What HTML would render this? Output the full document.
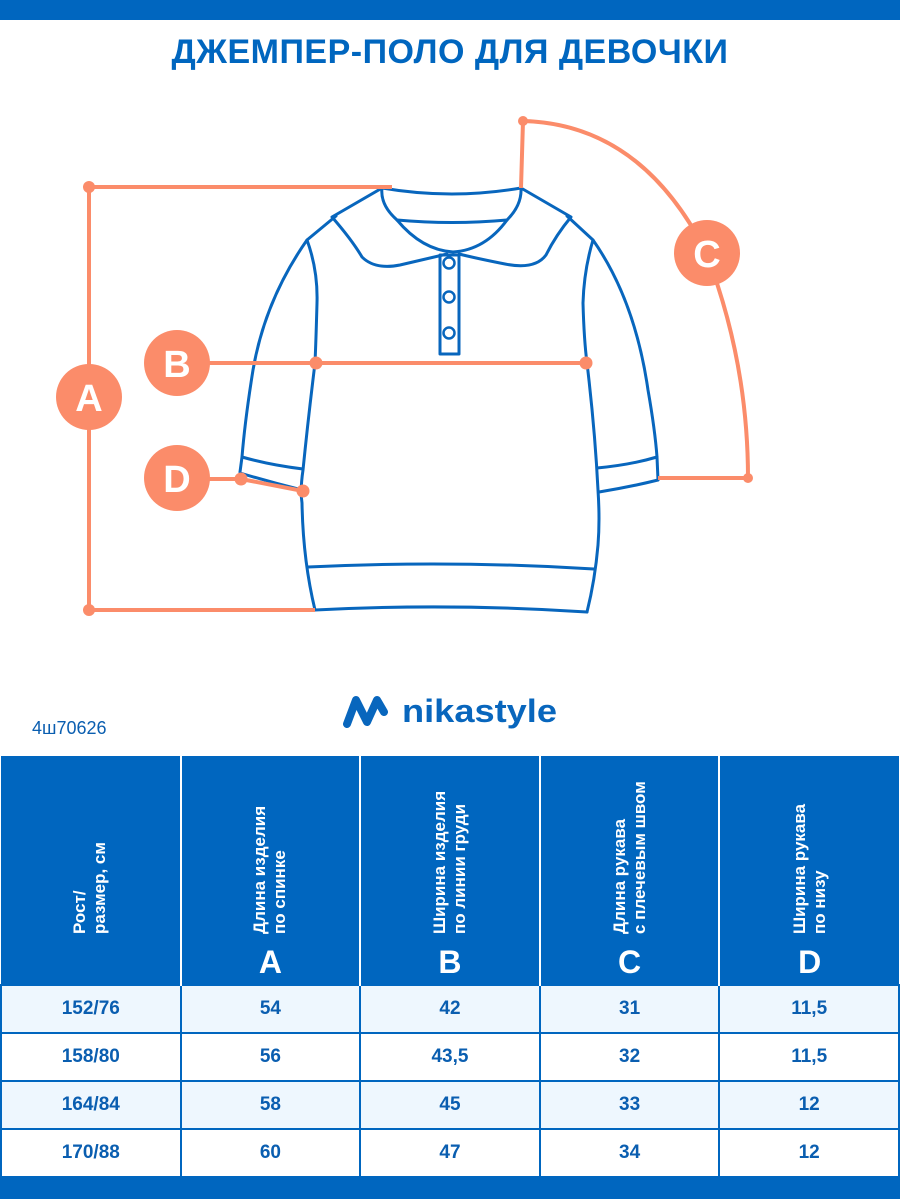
<!DOCTYPE html>
<html><head><meta charset="utf-8"><style>
html,body{margin:0;padding:0;background:#fff;}
body{width:900px;height:1199px;position:relative;overflow:hidden;font-family:"Liberation Sans",sans-serif;}
.bar{position:absolute;left:0;width:900px;background:#0066bf;}
.title{position:absolute;top:33px;left:0;width:900px;text-align:center;color:#0066bf;font-weight:bold;font-size:34px;letter-spacing:0.5px;}
.art{position:absolute;top:718px;left:32px;color:#0a5eb0;font-size:18px;}
table{position:absolute;left:0;top:756px;width:900px;border-collapse:collapse;table-layout:fixed;}
th{background:#0066bf;color:#fff;height:228px;border-left:2px solid #fff;position:relative;padding:0;}
th:first-child{border-left:none;}
th .v{position:absolute;left:50%;top:178px;transform-origin:0 0;transform:rotate(-90deg) translate(0,-50%);white-space:nowrap;font-size:17px;line-height:20px;text-align:left;font-weight:bold;}
th .l{position:absolute;left:0;width:100%;top:188px;font-size:32px;font-weight:bold;}
td{height:46px;border:2px solid #0066bf;text-align:center;color:#0a5eb0;font-weight:bold;font-size:19px;padding:0;}
tr.a td{background:#eef7fe;}
</style></head><body>
<div class="bar" style="top:0;height:20px"></div>
<div class="title">ДЖЕМПЕР-ПОЛО ДЛЯ ДЕВОЧКИ</div>
<svg width="900" height="750" style="position:absolute;left:0;top:0">
<g fill="none" stroke="#0866bd" stroke-width="3" stroke-linejoin="round" stroke-linecap="round">
<path d="M382,188 Q452,200 521,188"/>
<path d="M382,188 L332,217 Q352,240 362,257 Q375,270 400,265 Q430,258 447,254"/>
<path d="M521,188 L571,217 Q556,235 546,255 Q535,270 505,264 Q475,258 459,254"/>
<path d="M382,188 Q380,205 397,220 Q422,250 453,252 Q485,250 507,220 Q522,205 521,188"/>
<path d="M397,220 Q452,225 507,220"/>
<path d="M336,216 L307,240 Q265,300 253,370 Q245,420 242,457 L240,472"/>
<path d="M567,216 L593,240 Q635,300 648,390 Q655,430 657,457 L658,480"/>
<path d="M307,240 Q318,270 317,303 Q316,340 315,363 Q308,420 303,470 Q300,490 302,503 Q303,560 315,610"/>
<path d="M593,240 Q584,270 583,303 Q584,340 587,363 Q595,430 598,490 Q600,520 598,545 Q595,580 587,612"/>
<path d="M315,610 Q450,603 587,612"/>
<path d="M308,567 Q450,560 594,569"/>
<path d="M242,457 Q270,465 303,469"/>
<path d="M240,473 Q270,482 302,490"/>
<path d="M657,457 Q630,465 597,468"/>
<path d="M658,480 Q630,487 599,492"/>
<rect x="440" y="255" width="19" height="99"/>
<circle cx="449" cy="263" r="5.5" stroke-width="2.5"/>
<circle cx="449" cy="297" r="5.5" stroke-width="2.5"/>
<circle cx="449" cy="333" r="5.5" stroke-width="2.5"/>
</g>
<g stroke="#fb8c6a" stroke-width="4" fill="none">
<path d="M89,187 V610 M89,187 H392 M89,610 H315"/>
<path d="M177,363 H586"/>
<path d="M177,479 H241 L303,491"/>
<path d="M521,188 L523,121 Q640,124 705,250 Q748,360 748,478 H658"/>
</g>
<g fill="#fb8c6a">
<circle cx="89" cy="187" r="6"/><circle cx="89" cy="610" r="6"/>
<circle cx="316" cy="363" r="6.5"/><circle cx="586" cy="363" r="6.5"/>
<circle cx="241" cy="479" r="6.5"/><circle cx="303" cy="491" r="6.5"/>
<circle cx="523" cy="121" r="5"/><circle cx="748" cy="478" r="5"/>
<circle cx="89" cy="397" r="33"/><circle cx="177" cy="363" r="33"/>
<circle cx="177" cy="478" r="33"/><circle cx="707" cy="253" r="33"/>
</g>
<g fill="#fff" font-family="Liberation Sans, sans-serif" font-weight="bold" font-size="38" text-anchor="middle">
<text x="89" y="411">A</text><text x="177" y="377">B</text>
<text x="177" y="492">D</text><text x="707" y="267">C</text>
</g>
<path d="M347,724 L356,700 L367,722 L377,700 L384,712" fill="none" stroke="#0866bd" stroke-width="8" stroke-linejoin="round" stroke-linecap="round"/>
<text x="402" y="722" fill="#0866bd" font-family="Liberation Sans, sans-serif" font-weight="bold" font-size="32" textLength="155" lengthAdjust="spacingAndGlyphs">nikastyle</text>
</svg>
<div class="art">4ш70626</div>
<table>
<tr>
<th><div class="v">Рост/<br>размер, см</div></th>
<th><div class="v">Длина изделия<br>по спинке</div><div class="l">A</div></th>
<th><div class="v">Ширина изделия<br>по линии груди</div><div class="l">B</div></th>
<th><div class="v">Длина рукава<br>с плечевым швом</div><div class="l">C</div></th>
<th><div class="v">Ширина рукава<br>по низу</div><div class="l">D</div></th>
</tr>
<tr class="a"><td>152/76</td><td>54</td><td>42</td><td>31</td><td>11,5</td></tr>
<tr><td>158/80</td><td>56</td><td>43,5</td><td>32</td><td>11,5</td></tr>
<tr class="a"><td>164/84</td><td>58</td><td>45</td><td>33</td><td>12</td></tr>
<tr><td>170/88</td><td>60</td><td>47</td><td>34</td><td>12</td></tr>
</table>
<div class="bar" style="top:1178px;height:21px"></div>
</body></html>
